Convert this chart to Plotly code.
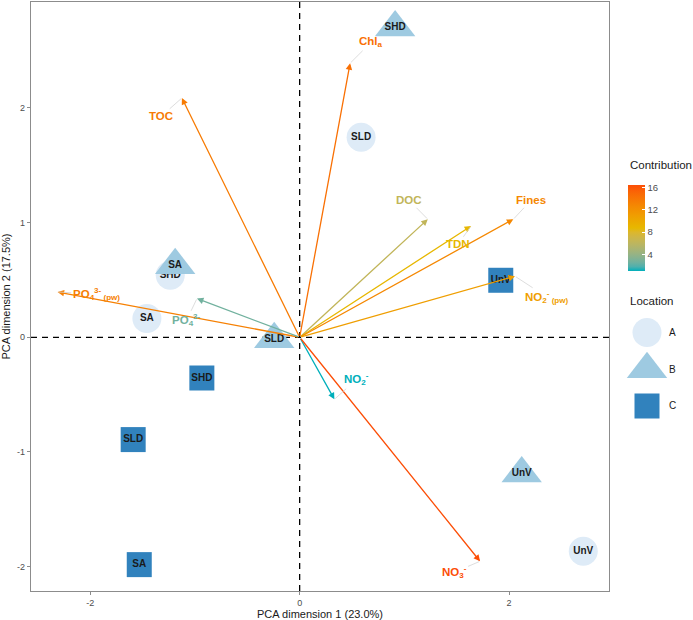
import plotly.graph_objects as go

# individuals (PCA scores)
ind_label = ["SA", "SHD", "SLD", "UnV", "SA", "SHD", "SLD", "UnV", "SA", "SHD", "SLD", "UnV"]
ind_location = ["A", "A", "A", "A", "B", "B", "B", "B", "C", "C", "C", "C"]
ind_dim1 = [-1.459, -1.236, 0.587, 2.709, -1.189, 0.912, -0.243, 2.121, -1.532, -0.934, -1.590, 1.921]
ind_dim2 = [0.163, 0.540, 1.744, -1.866, 0.628, 2.700, -0.017, -1.188, -1.982, -0.355, -0.892, 0.497]

# variables (scaled loadings) and their contribution
var_label = [
    "Chl<sub>a</sub>", "TOC", "DOC", "TDN", "Fines",
    "NO<sub>2</sub><sup>-</sup><sub> (pw)</sub>", "NO<sub>2</sub><sup>-</sup>",
    "NO<sub>3</sub><sup>-</sup>", "PO<sub>4</sub><sup>3-</sup><sub> (pw)</sub>",
    "PO<sub>4</sub><sup>3-</sup>",
]
var_dim1 = [0.482, -1.125, 1.224, 1.637, 2.041, 2.057, 0.332, 1.723, -2.312, -0.981]
var_dim2 = [2.389, 2.086, 1.029, 0.970, 1.029, 0.532, -0.541, -1.953, 0.395, 0.337]
var_contrib = [14.4, 13.6, 6.2, 8.8, 12.7, 10.9, 1.0, 16.4, 13.3, 2.6]

locations = ["A", "B", "C"]
x_ticks = [-2, 0, 2]
y_ticks = [-2, -1, 0, 1, 2]
cbar_ticks = [4, 8, 12, 16]

# layout helpers (label placement like ggrepel)
label_pos = [
    (0.683, 2.572), (-1.322, 1.927), (1.045, 1.194), (1.513, 0.811), (2.210, 1.194),
    (2.365, 0.349), (0.545, -0.366), (1.475, -2.049), (-1.943, 0.375), (-1.080, 0.148),
]
loc_style = {
    "A": dict(symbol="circle", color="#DEEBF7", size=29),
    "B": dict(symbol="triangle-up", color="#9ECAE1", size=35),
    "C": dict(symbol="square", color="#3182BD", size=25),
}
grad_cols = ["#00AFBB", "#E7B800", "#FC4E07"]
cmin, cmax = min(var_contrib), max(var_contrib)
FONT = "Liberation Sans, Arial, sans-serif"


# ggplot interpolates gradients in CIELAB, so do the same
def hex_to_lab(h):
    rgb = [int(h[i:i + 2], 16) / 255 for i in (1, 3, 5)]
    lin = [c / 12.92 if c <= 0.04045 else ((c + 0.055) / 1.055) ** 2.4 for c in rgb]
    x = (0.4124 * lin[0] + 0.3576 * lin[1] + 0.1805 * lin[2]) / 0.95047
    y = 0.2126 * lin[0] + 0.7152 * lin[1] + 0.0722 * lin[2]
    z = (0.0193 * lin[0] + 0.1192 * lin[1] + 0.9505 * lin[2]) / 1.08883
    f = [t ** (1 / 3) if t > 0.008856 else 7.787 * t + 16 / 116 for t in (x, y, z)]
    return [116 * f[1] - 16, 500 * (f[0] - f[1]), 200 * (f[1] - f[2])]


def lab_to_rgb(lab):
    fy = (lab[0] + 16) / 116
    fx = fy + lab[1] / 500
    fz = fy - lab[2] / 200
    xyz = [t ** 3 if t ** 3 > 0.008856 else (t - 16 / 116) / 7.787 for t in (fx, fy, fz)]
    x, y, z = xyz[0] * 0.95047, xyz[1], xyz[2] * 1.08883
    lin = [
        3.2406 * x - 1.5372 * y - 0.4986 * z,
        -0.9689 * x + 1.8758 * y + 0.0415 * z,
        0.0557 * x - 0.2040 * y + 1.0570 * z,
    ]
    out = []
    for c in lin:
        c = min(max(c, 0), 1)
        c = 12.92 * c if c <= 0.0031308 else 1.055 * c ** (1 / 2.4) - 0.055
        out.append(round(min(max(c, 0), 1) * 255))
    return "rgb({},{},{})".format(*out)


def ramp(t):
    labs = [hex_to_lab(c) for c in grad_cols]
    seg = min(int(t * 2), 1)
    u = t * 2 - seg
    a, b = labs[seg], labs[seg + 1]
    return lab_to_rgb([a[i] + (b[i] - a[i]) * u for i in range(3)])


colorscale = [[k / 20, ramp(k / 20)] for k in range(21)]
colors = [ramp((c - cmin) / (cmax - cmin)) for c in var_contrib]

fig = go.Figure()

for loc in locations:
    idx = [i for i, l in enumerate(ind_location) if l == loc]
    st = loc_style[loc]
    fig.add_trace(
        go.Scatter(
            x=[ind_dim1[i] for i in idx],
            y=[ind_dim2[i] for i in idx],
            text=[ind_label[i] for i in idx],
            mode="markers+text",
            textposition="middle center",
            textfont=dict(size=10, color="#1a1a1a", weight="bold", family=FONT),
            marker=dict(symbol=st["symbol"], color=st["color"], size=st["size"], line_width=0, opacity=1),
            name=loc,
            showlegend=False,
            hovertemplate="%{text} (" + loc + ")<extra></extra>",
        )
    )

# invisible tips carrying the colour bar
fig.add_trace(
    go.Scatter(
        x=var_dim1,
        y=var_dim2,
        mode="markers",
        marker=dict(
            size=4,
            opacity=0,
            color=var_contrib,
            colorscale=colorscale,
            cmin=cmin,
            cmax=cmax,
            colorbar=dict(
                x=0.9087, xanchor="left", xpad=0,
                y=0.616, yanchor="middle", ypad=0,
                len=86, lenmode="pixels", thickness=17,
                outlinewidth=0,
                ticks="inside", ticklen=3, tickcolor="white",
                tickvals=cbar_ticks,
                tickfont=dict(size=9.5, color="#4d4d4d"),
            ),
        ),
        showlegend=False,
        hovertemplate="contrib %{marker.color:.1f}<extra></extra>",
    )
)

# custom legend keys on a small side axis
fig.add_trace(
    go.Scatter(
        x=[0, 0, 0],
        y=locations,
        mode="markers",
        marker=dict(
            symbol=[loc_style[l]["symbol"] for l in locations],
            color=[loc_style[l]["color"] for l in locations],
            size=[loc_style[l]["size"] for l in locations],
            line_width=0,
            opacity=1,
        ),
        xaxis="x2",
        yaxis="y2",
        showlegend=False,
        hoverinfo="skip",
    )
)

annotations = []
for vx, vy, col in zip(var_dim1, var_dim2, colors):
    annotations.append(dict(
        x=vx, y=vy, ax=0, ay=0, xref="x", yref="y", axref="x", ayref="y",
        text="", showarrow=True, arrowhead=2, arrowsize=1, arrowwidth=1.3, arrowcolor=col,
    ))
for vx, vy, col, lab, (lx, ly) in zip(var_dim1, var_dim2, colors, var_label, label_pos):
    annotations.append(dict(
        x=vx, y=vy, ax=lx, ay=ly, xref="x", yref="y", axref="x", ayref="y",
        text=lab, showarrow=True, arrowhead=0, arrowwidth=0.8, arrowcolor="#d4d4d4",
        standoff=1, font=dict(size=11.5, color=col, weight="bold", family=FONT),
    ))
for title, ty in [("Contribution", 0.723), ("Location", 0.492)]:
    annotations.append(dict(
        x=0.9087, y=ty, xref="paper", yref="paper", xanchor="left", yanchor="middle",
        text=title, showarrow=False, font=dict(size=11.5, color="#1a1a1a"),
    ))

fig.add_hline(y=0, line=dict(color="black", width=1.3, dash="6px,5px"), layer="below")
fig.add_vline(x=0, line=dict(color="black", width=1.3, dash="6px,5px"), layer="below")

axis_common = dict(
    showgrid=False, zeroline=False, showline=True, mirror=True,
    linecolor="#8c8c8c", linewidth=1.3, automargin=False,
    ticks="outside", ticklen=3, tickcolor="#8c8c8c",
    tickfont=dict(size=9, color="#4d4d4d"),
)
fig.update_layout(
    width=693,
    height=620,
    margin=dict(l=31, r=5, t=2, b=29, autoexpand=False),
    plot_bgcolor="white",
    paper_bgcolor="white",
    font=dict(family=FONT, color="#1a1a1a"),
    xaxis=dict(
        domain=[0, 0.8798], range=[-2.566, 2.955],
        tickvals=x_ticks, ticktext=[str(t) for t in x_ticks],
        title=dict(text="PCA dimension 1 (23.0%)", font=dict(size=11), standoff=4),
        **axis_common,
    ),
    yaxis=dict(
        range=[-2.212, 2.923],
        tickvals=y_ticks, ticktext=[str(t) for t in y_ticks],
        title=dict(text="PCA dimension 2 (17.5%)", font=dict(size=11), standoff=4),
        **axis_common,
    ),
    xaxis2=dict(domain=[0.9056, 0.9696], range=[-1, 1], visible=False, anchor="y2"),
    yaxis2=dict(
        domain=[0.283, 0.470], anchor="x2", type="category", categoryarray=["C", "B", "A"],
        range=[-0.5, 2.5], side="right", showgrid=False, zeroline=False, showline=False,
        ticks="", tickfont=dict(size=10, color="#1a1a1a"), automargin=False,
    ),
    annotations=annotations,
)

# the page body has a default 8px margin; drop it so the figure fills the window
fig.write_html(
    "out.html",
    config={"displayModeBar": False},
    post_script="document.body.style.margin='0';",
)
